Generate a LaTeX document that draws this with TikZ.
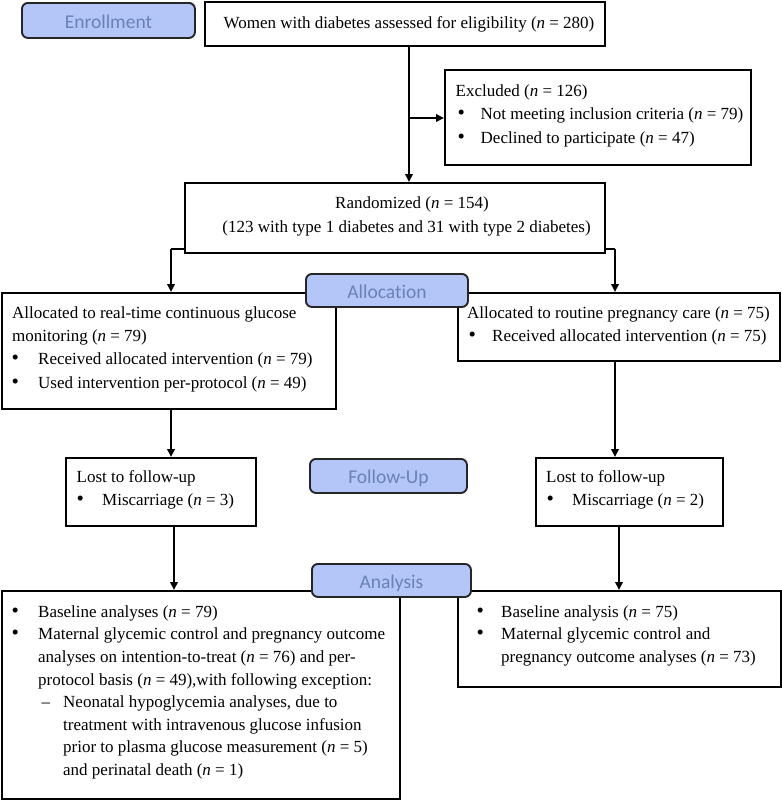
\documentclass[tikz,border=0pt]{standalone}
\usepackage{fontspec}
\setmainfont{Liberation Serif}
\newfontfamily\lblfont[Ligatures=NoCommon]{Carlito}
\usetikzlibrary{arrows.meta}
\definecolor{lblfill}{HTML}{B3C6F7}
\definecolor{lbltext}{HTML}{6A82B6}
\definecolor{lbldraw}{HTML}{262626}
\newcommand\fsz[1]{\fontsize{17}{#1}\selectfont}
\newcommand\bulit[2]{\makebox[#2pt][l]{\hspace*{#1pt}{\fontsize{21}{10}\selectfont\textbullet}}}
\newcommand\st{\rule{0pt}{14pt}}
\newcommand\nn{\textit{n}}
\begin{document}
\begin{tikzpicture}[x=1pt,y=-1pt,
  box/.style={draw=black, line width=1.9pt, fill=white, rectangle, inner sep=0pt, anchor=north west},
  lbl/.style={draw=lbldraw, fill=lblfill, rounded corners=6pt, line width=1.9pt, inner sep=0pt,
    font=\lblfont\fontsize{19.5}{19.5}\selectfont, text=lbltext, text height=17pt, text depth=1pt},
  txt/.style={inner sep=0pt, align=left, anchor=north west},
  ctxt/.style={inner sep=0pt, anchor=base, font=\fsz{23}},
  ln/.style={line width=1.9pt},
  arr/.style={line width=1.9pt, -{Triangle[length=8pt,width=7.5pt]}}]
\useasboundingbox (0,0) rectangle (782,801);

% boxes
\node[box, minimum width=400pt, minimum height=44pt] (women) at (204,1) {};
\node[box, minimum width=306pt, minimum height=95pt] (excl) at (444,69) {};
\node[box, minimum width=420pt, minimum height=70pt] (rand) at (184,182) {};
\node[box, minimum width=334pt, minimum height=116pt] (alloc1) at (1,292) {};
\node[box, minimum width=322pt, minimum height=68pt] (alloc2) at (457,292) {};
\node[box, minimum width=190pt, minimum height=68pt] (lost1) at (65,457) {};
\node[box, minimum width=187pt, minimum height=68pt] (lost2) at (535,457) {};
\node[box, minimum width=398pt, minimum height=208pt] (an1) at (1,590) {};
\node[box, minimum width=323pt, minimum height=96pt] (an2) at (457,590) {};

% texts
\node[ctxt] (womentxt) at (409,28.5) {Women with diabetes assessed for eligibility (\nn{} = 280)};
\node[txt, font=\fsz{23.5}] (excltxt) at (455.5,82) {\st Excluded (\nn{} = 126)\\
\bulit{2}{25}Not meeting inclusion criteria (\nn{} = 79)\\
\bulit{2}{25}Declined to participate (\nn{} = 47)};
\node[ctxt] (randtxt1) at (412,208) {Randomized (\nn{} = 154)};
\node[ctxt] (randtxt2) at (406.5,232) {(123 with type 1 diabetes and 31 with type 2 diabetes)};
\node[txt, font=\fsz{23.3}] (alloc1txt) at (12,304) {\st Allocated to real-time continuous glucose\\
monitoring (\nn{} = 79)\\
\bulit{-0.5}{26}Received allocated intervention (\nn{} = 79)\\
\bulit{-0.5}{26}Used intervention per-protocol (\nn{} = 49)};
\node[txt, font=\fsz{23}] (alloc2txt) at (467,304) {\st Allocated to routine pregnancy care (\nn{} = 75)\\
\bulit{1.5}{25}Received allocated intervention (\nn{} = 75)};
\node[txt, font=\fsz{23}] (lost1txt) at (76.5,468) {\st Lost to follow-up\\
\bulit{0}{25.5}Miscarriage (\nn{} = 3)};
\node[txt, font=\fsz{23}] (lost2txt) at (546,468) {\st Lost to follow-up\\
\bulit{0.5}{26}Miscarriage (\nn{} = 2)};
\node[txt, font=\fsz{22.6}] (an1txt) at (12,603) {\st\bulit{-0.5}{26}Baseline analyses (\nn{} = 79)\\
\bulit{-0.5}{26}Maternal glycemic control and pregnancy outcome\\
\hspace*{26pt}analyses on intention-to-treat (\nn{} = 76) and per-\\
\hspace*{26pt}protocol basis (\nn{} = 49),with following exception:\\
\hspace*{26pt}\makebox[25pt][l]{\hspace*{3.5pt}--}Neonatal hypoglycemia analyses, due to\\
\hspace*{51pt}treatment with intravenous glucose infusion\\
\hspace*{51pt}prior to plasma glucose measurement (\nn{} = 5)\\
\hspace*{51pt}and perinatal death (\nn{} = 1)};
\node[txt, font=\fsz{22.6}] (an2txt) at (477,603) {\st\bulit{-0.5}{24}Baseline analysis (\nn{} = 75)\\
\bulit{-0.5}{24}Maternal glycemic control and\\
\hspace*{24pt}pregnancy outcome analyses (\nn{} = 73)};

% stage labels
\node[lbl, minimum width=173pt, minimum height=35pt, anchor=north west] (enroll) at (21,2) {Enrollment};
\node[lbl, minimum width=162pt, minimum height=33pt, anchor=north west] (allocl) at (305,273) {Allocation};
\node[lbl, minimum width=157pt, minimum height=34pt, anchor=north west] (followl) at (309,458) {Follow-Up};
\node[lbl, minimum width=159pt, minimum height=33pt, anchor=north west] (anl) at (311,563) {Analysis};

% connectors
\coordinate (mx) at (409,0);
\coordinate (exj) at (409,118);
\coordinate (splitL) at (171,249);
\coordinate (splitR) at (615,249);
\coordinate (lx1) at (174,0);
\coordinate (lx2) at (619,0);
\draw[arr] (women.south -| mx) -- (rand.north -| mx);
\draw[arr] (exj) -- (excl.west |- exj);
\draw[ln] (rand.west |- splitL) -- (splitL);
\draw[ln] (rand.east |- splitR) -- (splitR);
\draw[arr] (splitL) -- (splitL |- alloc1.north);
\draw[arr] (splitR) -- (splitR |- alloc2.north);
\draw[arr] (alloc1.south -| splitL) -- (lost1.north -| splitL);
\draw[arr] (alloc2.south -| splitR) -- (lost2.north -| splitR);
\draw[arr] (lost1.south -| lx1) -- (an1.north -| lx1);
\draw[arr] (lost2.south -| lx2) -- (an2.north -| lx2);
\end{tikzpicture}
\end{document}
